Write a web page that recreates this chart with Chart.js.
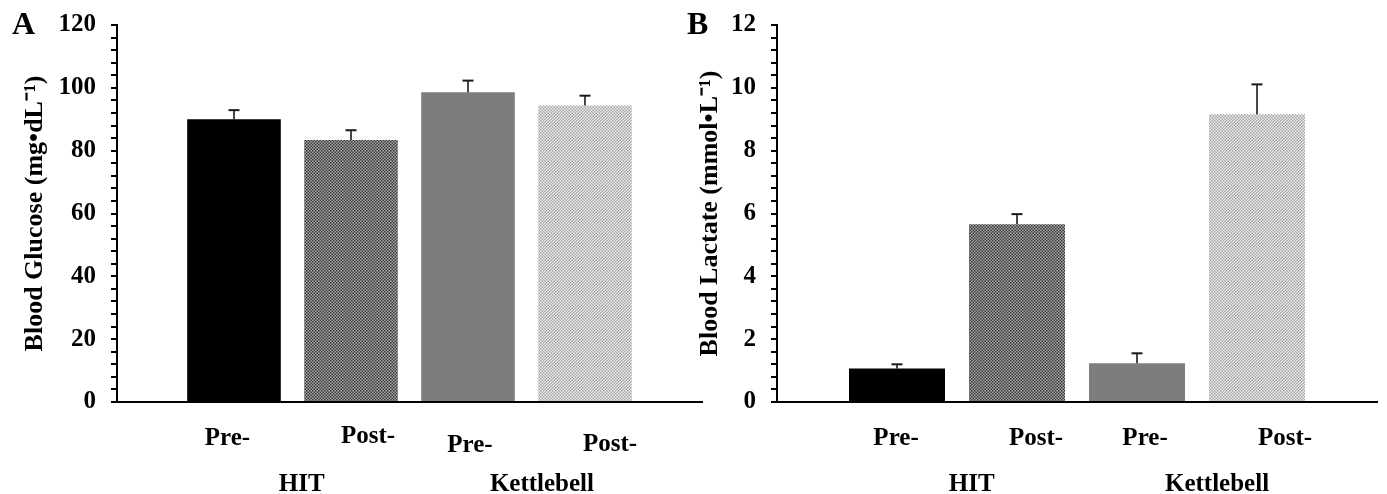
<!DOCTYPE html>
<html><head><meta charset="utf-8">
<script src="https://cdn.jsdelivr.net/npm/chart.js@4.4.1/dist/chart.umd.min.js"></script>
<style>
html,body{margin:0;padding:0;background:#fff;width:1387px;height:494px;overflow:hidden;}
canvas{position:absolute;top:0;}
#ca{left:0;}
#cb{left:680px;}
</style></head><body>
<canvas id="ca" width="712" height="494"></canvas>
<canvas id="cb" width="707" height="494"></canvas>
<script>
// ---- data ----
const categories = ['Pre-', 'Post-', 'Pre-', 'Post-'];
const groups = ['HIT', 'Kettlebell'];
const glucoseMean = [90.0, 83.4, 98.6, 94.4];
const glucoseSD = [2.9, 3.1, 3.7, 3.1];
const lactateMean = [1.07, 5.66, 1.23, 9.16];
const lactateSD = [0.13, 0.32, 0.32, 0.95];
const glucoseTickLabels = [0, 20, 40, 60, 80, 100, 120];
const lactateTickLabels = [0, 2, 4, 6, 8, 10, 12];

const FONT = "'Liberation Serif', 'Times New Roman', serif";

function checker(c1, c2, cell) {
  const t = document.createElement('canvas');
  t.width = t.height = cell * 2;
  const g = t.getContext('2d');
  g.fillStyle = c1; g.fillRect(0, 0, cell * 2, cell * 2);
  g.fillStyle = c2; g.fillRect(0, 0, cell, cell); g.fillRect(cell, cell, cell, cell);
  return g.createPattern(t, 'repeat');
}
function barFills() {
  return ['#000000', checker('#a6a6a6', '#3a3a3a', 1.5), '#7d7d7d', checker('#eeeeee', '#a4a4a4', 1.5)];
}

const panelPlugin = {
  id: 'panelText',
  afterDatasetsDraw(chart, args, opts) {
    const ctx = chart.ctx, xs = chart.scales.x, ys = chart.scales.y;
    const meta = chart.getDatasetMeta(0);
    ctx.save();
    ctx.strokeStyle = '#1a1a1a';
    meta.data.forEach((el, i) => {
      const yTop = ys.getPixelForValue(opts.means[i] + opts.errors[i]);
      ctx.lineWidth = 1.6;
      ctx.beginPath(); ctx.moveTo(el.x, el.y); ctx.lineTo(el.x, yTop); ctx.stroke();
      ctx.lineWidth = 2;
      ctx.beginPath(); ctx.moveTo(el.x - 5.5, yTop); ctx.lineTo(el.x + 5.5, yTop); ctx.stroke();
    });
    ctx.fillStyle = '#000';
    ctx.textAlign = 'center';
    ctx.textBaseline = 'alphabetic';
    ctx.font = 'bold 25px ' + FONT;
    opts.subLabels.forEach((t, i) => ctx.fillText(t, xs.getPixelForValue(opts.subPos[i]), opts.subBase[i]));
    opts.groupLabels.forEach((t, i) => ctx.fillText(t, xs.getPixelForValue(opts.groupPos[i]), opts.groupBase));
    ctx.font = 'bold 32px ' + FONT;
    ctx.textAlign = 'left';
    ctx.fillText(opts.letter, opts.letterX, opts.letterY);
    ctx.restore();
  }
};

function makeChart(id, cfg) {
  const data = cfg.means.map((v, i) => ({ x: i + 1, y: v }));
  return new Chart(document.getElementById(id), {
    type: 'bar',
    data: {
      datasets: [{
        data: data,
        backgroundColor: barFills(),
        borderWidth: 0,
        barPercentage: 0.8,
        categoryPercentage: 1.0
      }]
    },
    options: {
      responsive: false,
      animation: false,
      layout: { padding: { top: 25, right: 10, left: 0, bottom: 0 } },
      plugins: {
        legend: { display: false },
        tooltip: { enabled: false },
        panelText: {
          means: cfg.means, errors: cfg.errors,
          subLabels: categories, subPos: cfg.subPos, subBase: cfg.subBase,
          groupLabels: groups, groupPos: cfg.groupPos, groupBase: 491,
          letter: cfg.letter, letterX: cfg.letterX, letterY: 34
        }
      },
      scales: {
        x: {
          type: 'linear', min: 0, max: 5, offset: false,
          ticks: { display: false, stepSize: 1 },
          grid: { display: false, offset: false },
          border: { display: true, color: '#000', width: 2 },
          afterFit: s => { s.height = 92; s.paddingLeft = 0; s.paddingRight = 0; }
        },
        y: {
          min: 0, max: cfg.max,
          ticks: {
            stepSize: cfg.step, autoSkip: false, padding: 15, color: '#000',
            font: { family: FONT, size: 25, weight: 'bold' },
            callback: v => cfg.tickLabels.some(t => Math.abs(t - v) < 1e-6) ? String(Math.round(v)) : ''
          },
          grid: { display: true, drawOnChartArea: false, drawTicks: true, tickLength: 6, color: '#000', lineWidth: 2 },
          border: { display: true, color: '#000', width: 2 },
          title: {
            display: true, text: cfg.title, color: '#000',
            font: { family: FONT, size: 26, weight: 'bold' },
            padding: { top: cfg.titlePad, bottom: 0 }
          },
          afterFit: s => { s.width = cfg.yWidth; s.paddingTop = 0; s.paddingBottom = 0; }
        }
      }
    },
    plugins: [panelPlugin]
  });
}

makeChart('ca', {
  means: glucoseMean, errors: glucoseSD, max: 120, step: 4, tickLabels: glucoseTickLabels,
  title: 'Blood Glucose (mg\u2022dL\u207B\u00B9)', titlePad: 20, yWidth: 117,
  subPos: [0.944, 2.145, 3.017, 4.214], subBase: [445, 443, 452, 451],
  groupPos: [1.579, 3.632], letter: 'A', letterX: 12
});
makeChart('cb', {
  means: lactateMean, errors: lactateSD, max: 12, step: 0.4, tickLabels: lactateTickLabels,
  title: 'Blood Lactate (mmol\u2022L\u207B\u00B9)', titlePad: 15, yWidth: 97,
  subPos: [0.992, 2.158, 3.067, 4.233], subBase: [445, 445, 445, 445],
  groupPos: [1.622, 3.667], letter: 'B', letterX: 7
});
</script>
</body></html>
